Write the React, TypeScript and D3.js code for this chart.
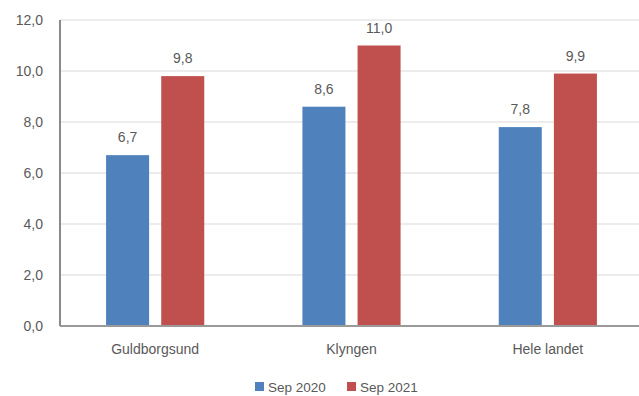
import React from "react";
import * as d3 from "d3";

const categories = ["Guldborgsund", "Klyngen", "Hele landet"];
const seriesNames = ["Sep 2020", "Sep 2021"];
const sep2020 = [6.7, 8.6, 7.8];
const sep2021 = [9.8, 11.0, 9.9];
const yTicks = [0, 2, 4, 6, 8, 10, 12];
const colors = ["#4F81BD", "#C0504D"];

const W = 639;
const H = 396;
const left = 60;
const bandStart = 57;
const bandEnd = 646;
const top = 20;
const bottom = 326;
const font = "'Liberation Sans', Arial, sans-serif";
const textColor = "#595959";

export default function App() {
  const x = d3.scaleBand<string>().domain(categories).range([bandStart, bandEnd]).paddingInner(0.5).paddingOuter(0.25);
  const x1 = d3.scaleBand<string>().domain(seriesNames).range([0, x.bandwidth()]).paddingInner(0.22);
  const y = d3.scaleLinear().domain([0, 12]).range([bottom, top]);
  const fmt = (v: number) => d3.format(".1f")(v).replace(".", ",");
  const series = [sep2020, sep2021];

  return (
    <svg width={W} height={H} style={{ position: "absolute", left: 0, top: 0, background: "#fff" }} fontFamily={font}>
      {yTicks.map((t) => (
        <g key={t}>
          {t > 0 && <line x1={left} x2={W} y1={y(t)} y2={y(t)} stroke="#e6e6e6" strokeWidth={1.5} />}
          <text x={43} y={y(t)} dy="0.35em" textAnchor="end" fontSize={14} fill={textColor}>
            {fmt(t)}
          </text>
        </g>
      ))}
      {categories.map((c, i) => (
        <g key={c} transform={`translate(${x(c)},0)`}>
          {series.map((s, j) => {
            const bx = x1(seriesNames[j])!;
            return (
              <g key={j}>
                <rect x={bx} y={y(s[i])} width={x1.bandwidth()} height={bottom - y(s[i])} fill={colors[j]} />
                <text x={bx + x1.bandwidth() / 2} y={y(s[i]) - 13} textAnchor="middle" fontSize={14} fill={textColor}>
                  {fmt(s[i])}
                </text>
              </g>
            );
          })}
        </g>
      ))}
      <line x1={left} x2={W} y1={bottom} y2={bottom} stroke="#9a9a9a" strokeWidth={2} />
      <line x1={left} x2={left} y1={top} y2={bottom} stroke="#8a8a8a" strokeWidth={2} />
      {categories.map((c) => (
        <text key={c} x={x(c)! + x.bandwidth() / 2} y={354} textAnchor="middle" fontSize={14} fill={textColor}>
          {c}
        </text>
      ))}
      {seriesNames.map((n, j) => {
        const lx = [255, 347][j];
        return (
          <g key={n}>
            <rect x={lx} y={382} width={9} height={9} fill={colors[j]} />
            <text x={lx + 13} y={387} dy="0.35em" fontSize={13.5} fill={textColor}>
              {n}
            </text>
          </g>
        );
      })}
    </svg>
  );
}
